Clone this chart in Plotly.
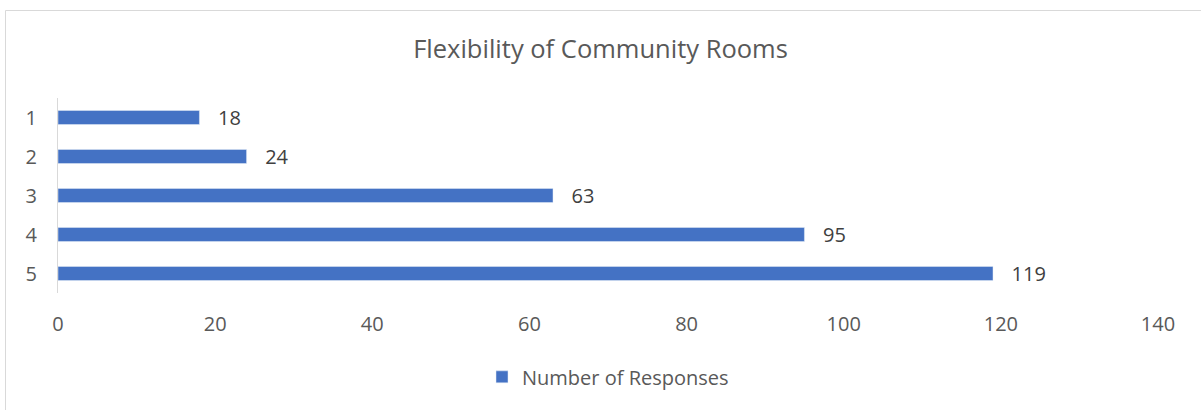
import plotly.graph_objects as go

# Données
categories = ["1", "2", "3", "4", "5"]
valeurs = [18, 24, 63, 95, 119]
serie = "Number of Responses"
titre = "Flexibility of Community Rooms"

police = "Open Sans"
gris_texte = "#595959"

fig = go.Figure()
fig.add_trace(go.Bar(
    x=valeurs,
    y=categories,
    orientation="h",
    name=serie,
    marker_color="#4472C4",
    text=valeurs,
    texttemplate="\u00a0\u00a0\u00a0%{x}",
    textposition="outside",
    constraintext="none",
    textfont=dict(family=police, size=20, color="#404040"),
    cliponaxis=False,
))

fig.update_layout(
    width=1201,
    height=410,
    margin=dict(l=58, r=43, t=98, b=117, autoexpand=False),
    plot_bgcolor="white",
    paper_bgcolor="white",
    bargap=0.64,
    title=dict(text=titre, x=0.5, xanchor="center", y=1 - 49 / 410, yanchor="middle",
               font=dict(family=police, size=25.5, color=gris_texte)),
    showlegend=True,
    legend=dict(orientation="h", x=0.5, xanchor="center", y=-0.43, yanchor="middle",
                font=dict(family=police, size=20, color=gris_texte)),
    xaxis=dict(range=[0, 140], dtick=20, showgrid=False, zeroline=False, showline=False,
               ticks="", ticklabelstandoff=17, automargin=False,
               tickfont=dict(family=police, size=20, color=gris_texte)),
    yaxis=dict(autorange="reversed", showgrid=False, zeroline=False, showline=True,
               linecolor="#d9d9d9", linewidth=1, ticks="", ticklabelstandoff=16,
               automargin=False,
               tickfont=dict(family=police, size=20, color=gris_texte)),
    shapes=[dict(type="rect", xref="paper", yref="paper",
                 x0=(5.5 - 58) / 1100, x1=1.1, y0=-1, y1=(293 - 10.5) / 195,
                 line=dict(color="#d9d9d9", width=1), fillcolor="rgba(0,0,0,0)")],
)

# enlève la marge par défaut de la page
fig.write_html("out.html", config={"displayModeBar": False},
               post_script="document.body.style.margin='0px';")
